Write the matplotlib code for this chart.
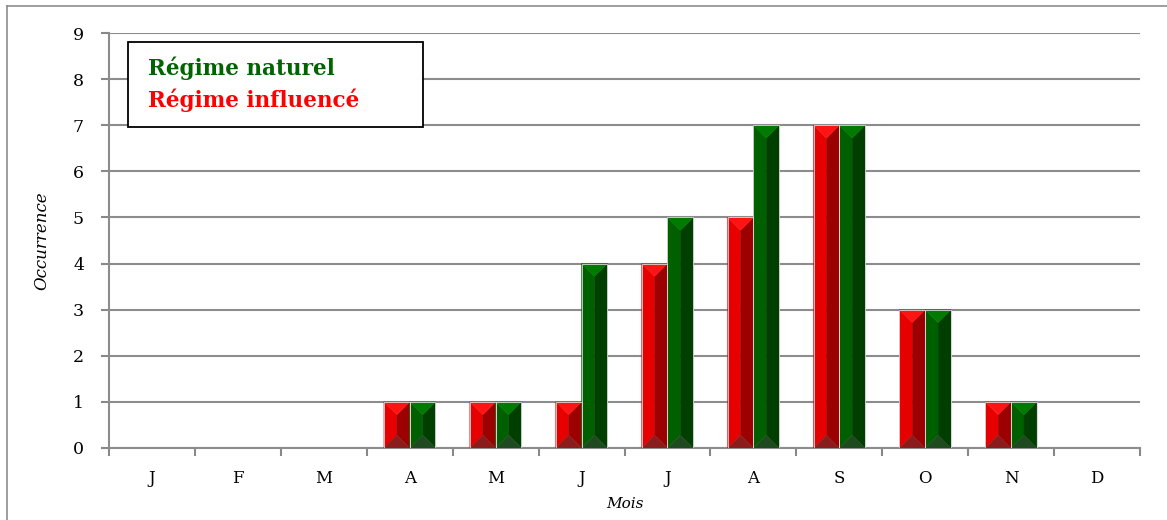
import matplotlib.pyplot as plt
from matplotlib.patches import Polygon, Rectangle
from matplotlib.lines import Line2D

# données
mois = ['J', 'F', 'M', 'A', 'M', 'J', 'J', 'A', 'S', 'O', 'N', 'D']
influence = [0, 0, 0, 1, 1, 1, 4, 5, 7, 3, 1, 0]
naturel = [0, 0, 0, 1, 1, 4, 5, 7, 7, 3, 1, 0]

# couleurs des faces du biseau: (gauche, droite, haut, bas)
rouge = ('#e60000', '#9c0000', '#ff1414', '#8a1c1c')
vert = ('#006000', '#003f00', '#007a00', '#1f4a1f')

plt.rcParams['font.family'] = ['DejaVu Serif', 'Liberation Serif']

W, H = 1167, 520
fig = plt.figure(figsize=(W / 100, H / 100), dpi=100)
ax = fig.add_axes([109 / W, 1 - 448 / H, (1140 - 109) / W, (448 - 33) / H])

ax.set_xlim(0, 12)
ax.set_ylim(0, 9)
ax.set_yticks(range(10))
ax.set_xticks(range(13))
ax.set_xticklabels([])
ax.set_xticks([i + 0.5 for i in range(12)], minor=True)
ax.set_xticklabels(mois, minor=True)
ax.tick_params(axis='x', which='minor', length=0, pad=16, labelsize=12)
ax.tick_params(axis='x', which='major', length=6, width=1.5, color='#888888', direction='out')
ax.tick_params(axis='y', length=6, width=1.5, color='#888888', labelsize=12.5, pad=12)
ax.grid(axis='y', color='#8c8c8c', linewidth=1.5, zorder=0)
ax.set_axisbelow(True)
for s in ['top', 'right']:
    ax.spines[s].set_visible(False)
for s in ['left', 'bottom']:
    ax.spines[s].set_color('#8c8c8c')
    ax.spines[s].set_linewidth(1.5)

ax.set_ylabel('Occurrence', fontsize=12, style='italic', labelpad=16)
ax.set_xlabel('Mois', fontsize=11, style='italic', labelpad=7)

bw = 0.3
# profondeur du biseau = moitié de la largeur de la barre en pixels
px_x = ax.transData.transform((bw, 0))[0] - ax.transData.transform((0, 0))[0]
px_y = ax.transData.transform((0, 1))[1] - ax.transData.transform((0, 0))[1]
depth = (px_x / 2) / px_y


def barre_biseau(x0, h, cols):
    if h <= 0:
        return
    x1 = x0 + bw
    xm = x0 + bw / 2
    d = min(depth, h / 2)
    faces = [
        ([(x0, 0), (xm, d), (xm, h - d), (x0, h)], cols[0]),
        ([(x1, 0), (xm, d), (xm, h - d), (x1, h)], cols[1]),
        ([(x0, h), (x1, h), (xm, h - d)], cols[2]),
        ([(x0, 0), (x1, 0), (xm, d)], cols[3]),
    ]
    for pts, c in faces:
        ax.add_patch(Polygon(pts, closed=True, facecolor=c, edgecolor=c, linewidth=0.3, zorder=3))
    ax.add_patch(Rectangle((x0, 0), bw, h, fill=False, edgecolor='#d8d8d8', linewidth=0.6, zorder=4))


for i in range(12):
    barre_biseau(i + 0.5 - bw, influence[i], rouge)
    barre_biseau(i + 0.5, naturel[i], vert)

# légende sous forme de cadre texte
box = Rectangle((128 / W, 1 - 127 / H), (423 - 128) / W, (127 - 42) / H, transform=fig.transFigure,
                facecolor='white', edgecolor='black', linewidth=1.3, zorder=5)
fig.patches.append(box)
fig.text(148 / W, 1 - 68 / H, 'Régime naturel', color='#006400', fontsize=15.5, fontweight='bold',
         va='center', ha='left', zorder=6)
fig.text(148 / W, 1 - 100 / H, 'Régime influencé', color='#ff0000', fontsize=15.5, fontweight='bold',
         va='center', ha='left', zorder=6)

# cadre extérieur
fig.add_artist(Line2D([7 / W, 7 / W], [0, 1 - 6 / H], transform=fig.transFigure, color='#8c8c8c', linewidth=1.2))
fig.add_artist(Line2D([7 / W, 1], [1 - 6 / H, 1 - 6 / H], transform=fig.transFigure, color='#8c8c8c', linewidth=1.2))

fig.savefig('out.png', dpi=100)
